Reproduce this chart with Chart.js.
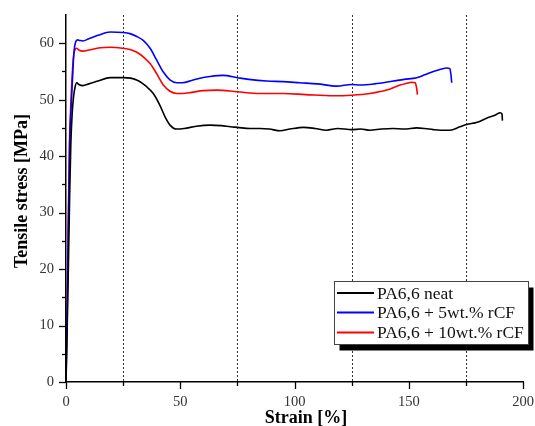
<!DOCTYPE html>
<html>
<head>
<meta charset="utf-8">
<script src="https://cdn.jsdelivr.net/npm/chart.js@4.4.1/dist/chart.umd.min.js"></script>
<style>
  html, body { margin: 0; padding: 0; background: #fff; }
  #wrap { width: 535px; height: 426px; position: relative; }
</style>
</head>
<body>
<div id="wrap"><canvas id="tensile-chart"></canvas></div>
<script>
// tensile curves, strain [%] vs stress [MPa]
const neatStrain = [0, 0.8, 1.6, 2.1, 2.7, 3.3, 4.0, 4.7, 5.6, 7.4, 10, 14, 19.3, 25, 30.9, 35.3, 38.2, 41.1, 43.3, 45.5, 48.4, 51.7, 57, 63, 68, 72, 75, 80.5, 85, 89, 93.7, 98, 104, 109, 114, 119, 125, 129, 133, 138, 143, 148, 153.5, 157, 160.7, 164, 168, 172.4, 175.3, 180, 184, 188, 190, 190.8, 191];
const neatStress = [0, 15, 33, 42, 47.5, 50.5, 52.3, 53.0, 52.7, 52.5, 52.8, 53.3, 53.9, 53.9, 53.5, 52.3, 51.1, 49.0, 47.0, 45.5, 44.8, 44.9, 45.3, 45.5, 45.4, 45.2, 45.1, 44.9, 44.9, 44.8, 44.5, 44.8, 45.1, 44.9, 44.6, 44.9, 44.7, 44.8, 44.6, 44.8, 44.9, 44.8, 45.0, 44.9, 44.7, 44.6, 44.6, 45.2, 45.6, 46.0, 46.7, 47.3, 47.7, 47.5, 46.3];

const cf5Strain = [0, 0.7, 1.6, 2.4, 3.0, 3.5, 4.2, 5.1, 6, 7.4, 10, 14, 19.3, 25, 28, 31, 33.8, 36.8, 39.7, 42.6, 45.5, 48.4, 51, 55, 58.6, 63, 68.8, 75, 80, 87.8, 95, 102.4, 110, 118.5, 125, 128.7, 135, 143.2, 148, 153.5, 157, 160.8, 164, 166.6, 168, 168.5, 168.8];
const cf5Stress = [0, 18, 42, 50, 55, 58.5, 60.2, 60.6, 60.5, 60.4, 60.8, 61.4, 62.0, 61.9, 61.7, 61.2, 60.5, 59.1, 57.0, 54.9, 53.5, 53.0, 53.0, 53.4, 53.8, 54.1, 54.3, 53.9, 53.6, 53.3, 53.2, 53.0, 52.8, 52.4, 52.7, 52.6, 52.8, 53.3, 53.6, 53.9, 54.4, 55.0, 55.4, 55.6, 55.5, 54.3, 53.0];

const cf10Strain = [0, 0.7, 1.5, 2.2, 2.8, 3.4, 4.0, 4.7, 5.6, 7.4, 10, 15, 19.3, 25, 28, 31, 33.8, 36.8, 39.7, 42.6, 45.5, 48.4, 51, 55, 60, 66, 75, 85, 95, 105, 117, 125, 133, 140.3, 146.2, 149, 151.3, 152.8, 153.5, 153.8];
const cf10Stress = [0, 20, 42, 50, 55, 58, 58.9, 59.1, 58.8, 58.6, 58.8, 59.2, 59.3, 59.1, 58.9, 58.4, 57.6, 56.4, 54.6, 52.6, 51.5, 51.1, 51.1, 51.3, 51.6, 51.7, 51.4, 51.1, 51.1, 50.9, 50.7, 50.8, 51.1, 51.7, 52.6, 52.9, 53.1, 53.0, 51.9, 50.9];

const seriesLabels = ['PA6,6 neat', 'PA6,6 + 5wt.% rCF', 'PA6,6 + 10wt.% rCF'];
const seriesColors = ['#000000', '#0000ff', '#ff0000'];

const strainTicks = [0, 50, 100, 150, 200];
const strainMinor = [25, 75, 125, 175];   // also where the dotted guides go
const stressTicks = [0, 10, 20, 30, 40, 50, 60];
const stressMinor = [5, 15, 25, 35, 45, 55];

const SERIF = '"Liberation Serif", "Times New Roman", serif';

function toPoints(xs, ys) {
    return xs.map((x, i) => ({ x: x, y: ys[i] }));
}

// dotted guides, outward tick marks, axis titles and the boxed legend
const decorPlugin = {
    id: 'decor',
    beforeDatasetsDraw(chart) {
        const { ctx, chartArea, scales } = chart;
        ctx.save();
        ctx.strokeStyle = '#333';
        ctx.lineWidth = 1;
        ctx.setLineDash([2, 2]);
        strainMinor.forEach(v => {
            const px = Math.round(scales.x.getPixelForValue(v)) + 0.5;
            ctx.beginPath();
            ctx.moveTo(px, chartArea.top);
            ctx.lineTo(px, chartArea.bottom);
            ctx.stroke();
        });
        ctx.restore();
    },
    afterDraw(chart) {
        const { ctx, chartArea, scales } = chart;
        ctx.save();
        ctx.strokeStyle = '#000';
        ctx.lineWidth = 1.3;
        const drawX = (vals, len) => vals.forEach(v => {
            const px = Math.round(scales.x.getPixelForValue(v)) + 0.5;
            ctx.beginPath();
            ctx.moveTo(px, chartArea.bottom);
            ctx.lineTo(px, chartArea.bottom + len);
            ctx.stroke();
        });
        const drawY = (vals, len) => vals.forEach(v => {
            const py = Math.round(scales.y.getPixelForValue(v)) + 0.5;
            ctx.beginPath();
            ctx.moveTo(chartArea.left, py);
            ctx.lineTo(chartArea.left - len, py);
            ctx.stroke();
        });
        drawX(strainTicks, 7);
        drawX(strainMinor, 4);
        drawY(stressTicks, 7);
        drawY(stressMinor, 4);

        // axis titles
        ctx.fillStyle = '#000';
        ctx.font = 'bold 18px ' + SERIF;
        ctx.textAlign = 'center';
        ctx.textBaseline = 'middle';
        ctx.fillText('Strain [%]', 306, 418);
        ctx.save();
        ctx.translate(22, 191);
        ctx.rotate(-Math.PI / 2);
        ctx.fillText('Tensile stress [MPa]', 0, 0);
        ctx.restore();

        // legend with drop shadow
        const bx = 334.5, by = 281.5, bw = 194, bh = 63;
        ctx.fillStyle = '#000';
        ctx.fillRect(bx + 5, by + 6, bw, bh);
        ctx.fillStyle = '#fff';
        ctx.fillRect(bx, by, bw, bh);
        ctx.strokeStyle = '#444';
        ctx.lineWidth = 1;
        ctx.strokeRect(bx, by, bw, bh);
        ctx.font = '17.5px ' + SERIF;
        ctx.textAlign = 'left';
        const rows = [293, 312.5, 332.5];
        chart.data.datasets.forEach((ds, i) => {
            ctx.strokeStyle = ds.borderColor;
            ctx.lineWidth = 2;
            ctx.beginPath();
            ctx.moveTo(337, rows[i]);
            ctx.lineTo(374, rows[i]);
            ctx.stroke();
            ctx.fillStyle = '#111';
            ctx.fillText(ds.label, 377, rows[i] + 1);
        });
        ctx.restore();
    }
};

const datasets = [
    toPoints(neatStrain, neatStress),
    toPoints(cf5Strain, cf5Stress),
    toPoints(cf10Strain, cf10Stress)
].map((pts, i) => ({
    label: seriesLabels[i],
    data: pts,
    borderColor: seriesColors[i],
    borderWidth: 1.6,
    pointRadius: 0,
    showLine: true,
    fill: false,
    cubicInterpolationMode: 'monotone'
}));

const ctx = document.getElementById('tensile-chart').getContext('2d');
window.tensileChart = new Chart(ctx, {
    type: 'scatter',
    data: { datasets: datasets },
    options: {
        responsive: true,
        maintainAspectRatio: false,
        animation: false,
        layout: { padding: { top: 15, right: 12, left: 0, bottom: 0 } },
        plugins: { legend: { display: false }, tooltip: { enabled: false } },
        scales: {
            x: {
                type: 'linear',
                min: 0,
                max: 200,
                afterBuildTicks: s => { s.ticks = strainTicks.map(v => ({ value: v })); },
                afterFit: s => { s.height = 44; s.paddingLeft = 0; s.paddingRight = 0; },
                grid: { display: false, drawTicks: false },
                border: { display: true, color: '#000', width: 1.5 },
                ticks: { color: '#333', padding: 11, font: { family: SERIF, size: 14.5 } }
            },
            y: {
                type: 'linear',
                min: 0,
                max: 65,
                afterBuildTicks: s => { s.ticks = stressTicks.map(v => ({ value: v })); },
                afterFit: s => { s.width = 66; s.paddingTop = 0; s.paddingBottom = 0; },
                grid: { display: false, drawTicks: false },
                border: { display: true, color: '#000', width: 1.5 },
                ticks: { color: '#333', padding: 12, font: { family: SERIF, size: 14.5 } }
            }
        }
    },
    plugins: [decorPlugin]
});
</script>
</body>
</html>
